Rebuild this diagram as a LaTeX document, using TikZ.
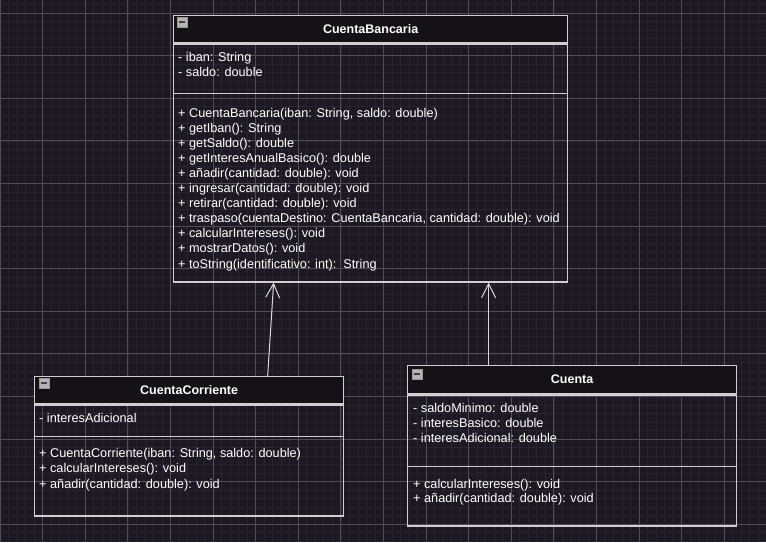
\documentclass[tikz,border=0pt]{standalone}
\usepackage{fontspec}
\setmainfont{Liberation Sans}
\usepackage{tikz}
\usetikzlibrary{arrows.meta, positioning, calc}
\definecolor{canvasbg}{HTML}{1C1922}
\definecolor{gridminor}{HTML}{27242D}
\definecolor{gridmajor}{HTML}{504D57}
\definecolor{headfill}{HTML}{141117}
\definecolor{boxedge}{HTML}{CFCFCF}
\definecolor{icongray}{HTML}{B4B4B4}

\tikzset{
  classhead/.style={rectangle, draw=boxedge, line width=1.3pt, fill=headfill, anchor=north west,
    inner sep=0pt, text=white, font=\fontsize{12.5}{14}\selectfont\bfseries},
  classbox/.style={rectangle, draw=boxedge, line width=1.3pt, anchor=north west, inner sep=0pt},
  divider/.style={draw=boxedge, line width=1.3pt},
  member/.style={anchor=base west, inner sep=0pt, text=white, font=\fontsize{12.7}{14}\selectfont},
  collapse/.style={rectangle, minimum size=9.5pt, inner sep=0pt, fill=icongray, draw=gray!80, line width=0.5pt,
    path picture={\fill[black!75] ([xshift=1.8pt,yshift=-0.9pt]path picture bounding box.west)
      rectangle ([xshift=-1.8pt,yshift=0.9pt]path picture bounding box.east);}},
  inherit/.style={draw=white!85!black, line width=1pt, -{Straight Barb[length=14pt, width=14pt, line width=1pt]}}
}

\begin{document}
\begin{tikzpicture}[x=1pt, y=-1pt]
  % Canvas
  \useasboundingbox (0,0) rectangle (766,542);
  \fill[canvasbg] (0,0) rectangle (766,542);

  % Grid - fine lines, then every fifth line stronger
  \foreach \k in {0,...,90} {
    \draw[gridminor, line width=0.6pt] ({8.52*\k}, 0) -- ({8.52*\k}, 542);
  }
  \foreach \k in {-1,...,63} {
    \draw[gridminor, line width=0.6pt] (0, {13+8.52*\k}) -- (766, {13+8.52*\k});
  }
  \foreach \k in {0,...,18} {
    \draw[gridmajor, line width=0.8pt] ({42.6*\k}, 0) -- ({42.6*\k}, 542);
  }
  \foreach \k in {0,...,12} {
    \draw[gridmajor, line width=0.8pt] (0, {13+42.6*\k}) -- (766, {13+42.6*\k});
  }

  % CuentaBancaria
  \node[classhead, minimum width=394, minimum height=27] (bancaria-head) at (173,15) {CuentaBancaria};
  \node[classbox, minimum width=394, minimum height=238] (bancaria) at (bancaria-head.south west) {};
  \node[collapse] (bancaria-icon) at (182,22) {};
  \draw[divider] ([yshift=-50pt]bancaria.north west) -- ([yshift=-50pt]bancaria.north east);
  \foreach \m [count=\i] in {- iban: String, - saldo: double} {
    \node[member] (bancaria-attr\i) at (178, {61+15*(\i-1)}) {\m};
  }
  \foreach \m [count=\i] in {{+ CuentaBancaria(iban: String, saldo: double)}, + getIban(): String,
      + getSaldo(): double, + getInteresAnualBasico(): double, + añadir(cantidad: double): void,
      + ingresar(cantidad: double): void, + retirar(cantidad: double): void,
      {+ traspaso(cuentaDestino: CuentaBancaria, cantidad: double): void},
      + calcularIntereses(): void, + mostrarDatos(): void, + toString(identificativo: int):\ \ String} {
    \node[member] (bancaria-op\i) at (178, {117+15.1*(\i-1)}) {\m};
  }

  % CuentaCorriente
  \node[classhead, minimum width=309, minimum height=27] (corriente-head) at (34,376) {CuentaCorriente};
  \node[classbox, minimum width=309, minimum height=111] (corriente) at (corriente-head.south west) {};
  \node[collapse] (corriente-icon) at (44,383) {};
  \draw[divider] ([yshift=-32pt]corriente.north west) -- ([yshift=-32pt]corriente.north east);
  \node[member] (corriente-attr1) at (39,422) {- interesAdicional};
  \foreach \m [count=\i] in {{+ CuentaCorriente(iban: String, saldo: double)},
      + calcularIntereses(): void, + añadir(cantidad: double): void} {
    \node[member] (corriente-op\i) at (39, {457+15.5*(\i-1)}) {\m};
  }

  % Cuenta
  \node[classhead, minimum width=329, minimum height=28] (cuenta-head) at (407,365) {Cuenta};
  \node[classbox, minimum width=329, minimum height=131] (cuenta) at (cuenta-head.south west) {};
  \node[collapse] (cuenta-icon) at (417,374) {};
  \draw[divider] ([yshift=-72pt]cuenta.north west) -- ([yshift=-72pt]cuenta.north east);
  \foreach \m [count=\i] in {- saldoMinimo: double, - interesBasico: double, - interesAdicional: double} {
    \node[member] (cuenta-attr\i) at (413, {412+15*(\i-1)}) {\m};
  }
  \foreach \m [count=\i] in {+ calcularIntereses(): void, + añadir(cantidad: double): void} {
    \node[member] (cuenta-op\i) at (413, {488+14.5*(\i-1)}) {\m};
  }

  % Inheritance
  \draw[inherit] ([xshift=78.5pt]corriente-head.north) -- ([xshift=-97pt]bancaria.south);
  \draw[inherit] ([xshift=-83.5pt]cuenta-head.north) -- ([xshift=118pt]bancaria.south);

\end{tikzpicture}
\end{document}
